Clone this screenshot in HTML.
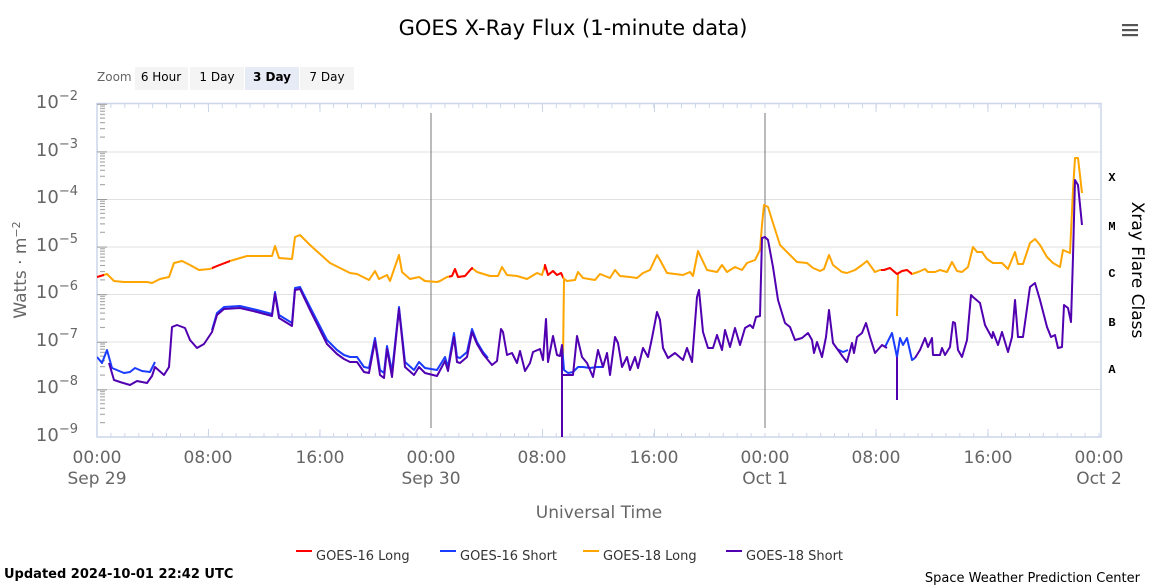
<!DOCTYPE html>
<html><head><meta charset="utf-8"><style>
body{margin:0;background:#fff;}
svg{display:block;font-family:"DejaVu Sans","Liberation Sans",sans-serif;}
</style></head><body>
<svg width="1153" height="586" viewBox="0 0 1153 586">
<defs>
<clipPath id="red"><rect x="90" y="90" width="14" height="360"/><rect x="212" y="90" width="18" height="360"/><rect x="449" y="90" width="24" height="360"/><rect x="544" y="90" width="19" height="360"/><rect x="881" y="90" width="31" height="360"/></clipPath>
<clipPath id="plot"><rect x="97" y="103" width="1004" height="334"/></clipPath>
<pattern id="xt" patternUnits="userSpaceOnUse" x="96.5" y="0" width="13.9167" height="586"><line x1="0.5" x2="0.5" y1="104" y2="108" stroke="#ccd6eb"/><line x1="0.5" x2="0.5" y1="433" y2="437" stroke="#ccd6eb"/></pattern>
<pattern id="yt" patternUnits="userSpaceOnUse" x="0" y="103.8" width="20" height="47.6"><g stroke="#999" stroke-width="1"><line x1="0" x2="20" y1="0.5" y2="0.5"/><line x1="0" x2="5" y1="33.3" y2="33.3"/><line x1="0" x2="5" y1="24.9" y2="24.9"/><line x1="0" x2="5" y1="18.9" y2="18.9"/><line x1="0" x2="5" y1="14.3" y2="14.3"/><line x1="0" x2="5" y1="10.6" y2="10.6"/><line x1="0" x2="5" y1="7.4" y2="7.4"/><line x1="0" x2="5" y1="4.6" y2="4.6"/><line x1="0" x2="5" y1="2.2" y2="2.2"/></g></pattern>
<polyline id="op" points="97,277 107,274 114,281 124,282 147,282 152,283 160,279 169,277 174,263 182,261 190,265 199,270 210,269 217,266 230,261 247,256 272,256 275,246 279,258 292,259 295,237 300,235 310,245 330,263 350,273 357,274 369,280 375,271 379,279 387,275 390,281 399,255 402,272 410,279 419,277 425,281 437,282 440,281 447,277 452,276 455,269 458,277 465,276 472,268 477,272 490,276 498,276 502,267 507,275 517,276 527,279 537,273 542,275 545,265 548,275 553,271 557,275 561,273 564,279 567,281 575,280 578,272 583,278 595,280 600,274 605,276 610,278 615,270 620,276 630,277 637,278 643,273 650,270 657,255 660,260 667,273 683,275 690,272 693,276 698,251 707,270 717,272 722,265 727,272 735,267 742,270 747,263 755,260 760,250 762,225 764,205 768,207 773,223 780,245 790,255 797,262 807,263 813,268 820,271 824,269 829,255 833,265 842,272 847,273 855,270 862,265 867,261 875,272 880,270 884,270 890,268 897,274 902,271 907,270 912,274 918,272 925,269 928,272 935,272 940,270 947,272 952,262 957,271 962,272 968,267 973,247 977,252 982,252 987,259 993,263 1002,263 1008,269 1015,252 1018,264 1023,264 1030,243 1035,239 1040,245 1047,257 1053,263 1060,267 1063,250 1070,253 1073,190 1075,158 1078,158 1082,193"/>
</defs>
<text x="573" y="35" text-anchor="middle" font-size="21" fill="#000">GOES X-Ray Flux (1-minute data)</text>
<g fill="#555"><rect x="1122" y="24" width="16" height="2.2"/><rect x="1122" y="29" width="16" height="2.2"/><rect x="1122" y="34" width="16" height="2.2"/></g>
<text x="97" y="81" font-size="12" fill="#666">Zoom</text>
<rect x="135" y="67" width="53" height="23" fill="#f4f4f4"/><text x="161" y="81" font-size="12" text-anchor="middle">6 Hour</text>
<rect x="190" y="67" width="54" height="23" fill="#f4f4f4"/><text x="217" y="81" font-size="12" text-anchor="middle">1 Day</text>
<rect x="245" y="67" width="54" height="23" fill="#e6ebf5"/><text x="272" y="81" font-size="12" text-anchor="middle" font-weight="bold">3 Day</text>
<rect x="300" y="67" width="54" height="23" fill="#f4f4f4"/><text x="327" y="81" font-size="12" text-anchor="middle">7 Day</text>
<g stroke="#e0e0e0" stroke-width="1">
<line x1="97" x2="1101" y1="152" y2="152"/><line x1="97" x2="1101" y1="199.5" y2="199.5"/><line x1="97" x2="1101" y1="247" y2="247"/><line x1="97" x2="1101" y1="294.5" y2="294.5"/><line x1="97" x2="1101" y1="342" y2="342"/><line x1="97" x2="1101" y1="389.5" y2="389.5"/>
</g>
<rect x="97" y="103.5" width="1004" height="333.5" fill="none" stroke="#ccd6eb" stroke-width="1.5"/>
<rect x="96" y="100" width="1006" height="340" fill="url(#xt)"/>
<rect x="97" y="103" width="10" height="334" fill="url(#yt)"/>
<g stroke="#ccd6eb" stroke-width="1">
<line x1="208.5" x2="208.5" y1="104" y2="112"/><line x1="320" x2="320" y1="104" y2="112"/><line x1="654.5" x2="654.5" y1="104" y2="112"/><line x1="876" x2="876" y1="104" y2="112"/><line x1="988" x2="988" y1="104" y2="112"/>
<line x1="208.5" x2="208.5" y1="429" y2="437"/><line x1="320" x2="320" y1="429" y2="437"/><line x1="542.5" x2="542.5" y1="429" y2="437"/><line x1="654.5" x2="654.5" y1="429" y2="437"/><line x1="876" x2="876" y1="429" y2="437"/><line x1="988" x2="988" y1="429" y2="437"/><line x1="542.5" x2="542.5" y1="104" y2="112"/>
</g>
<g stroke="#777" stroke-width="1"><line x1="431" x2="431" y1="113" y2="428"/><line x1="765" x2="765" y1="113" y2="428"/></g>
<g font-size="18" fill="#666" text-anchor="end">
<text x="78" y="108">10<tspan dy="-8" font-size="13">−2</tspan></text>
<text x="78" y="156">10<tspan dy="-8" font-size="13">−3</tspan></text>
<text x="78" y="203">10<tspan dy="-8" font-size="13">−4</tspan></text>
<text x="78" y="251">10<tspan dy="-8" font-size="13">−5</tspan></text>
<text x="78" y="298">10<tspan dy="-8" font-size="13">−6</tspan></text>
<text x="78" y="346">10<tspan dy="-8" font-size="13">−7</tspan></text>
<text x="78" y="393">10<tspan dy="-8" font-size="13">−8</tspan></text>
<text x="78" y="441">10<tspan dy="-8" font-size="13">−9</tspan></text>
</g>
<text transform="translate(26,270) rotate(-90)" font-size="17" fill="#666" text-anchor="middle">Watts · m<tspan dy="-6" font-size="11">−2</tspan></text>
<g font-size="17" fill="#666" text-anchor="middle">
<text x="97" y="463">00:00</text><text x="97" y="484">Sep 29</text>
<text x="208" y="463">08:00</text><text x="320" y="463">16:00</text>
<text x="431" y="463">00:00</text><text x="431" y="484">Sep 30</text>
<text x="542" y="463">08:00</text><text x="654" y="463">16:00</text>
<text x="765" y="463">00:00</text><text x="765" y="484">Oct 1</text>
<text x="876" y="463">08:00</text><text x="988" y="463">16:00</text>
<text x="1099" y="463">00:00</text><text x="1099" y="484">Oct 2</text>
<text x="599" y="518">Universal Time</text>
</g>
<g font-size="12" font-weight="bold" fill="#000" font-family="Liberation Mono,monospace" text-anchor="middle">
<text x="1112" y="181">X</text><text x="1112" y="230">M</text><text x="1112" y="277">C</text><text x="1112" y="326">B</text><text x="1112" y="373">A</text>
</g>
<text transform="translate(1132,270) rotate(90)" font-size="17" fill="#000" text-anchor="middle">Xray Flare Class</text>
<g clip-path="url(#plot)" fill="none" stroke-width="2" stroke-linejoin="round">
<use href="#op" stroke="#ffa500"/>
<polyline stroke="#ffa500" points="564,279 563,360"/><polyline stroke="#ffa500" points="898,274 897,316"/>
<g clip-path="url(#red)"><use href="#op" stroke="#ff0000"/></g>
<polyline stroke="#1a3cff" points="97,357 102,363 107,350 112,368 124,373 130,372 135,368 142,371 150,372 155,362"/>
<polyline stroke="#1a3cff" points="212,330 217,313 224,307 240,306 257,310 272,314 275,292 279,315 292,323 295,288 300,287 310,307 327,340 337,350 344,355 350,357 357,357 364,367 369,368 375,338 380,370 384,373 387,346 392,372 399,307 405,362 414,370 419,362 425,368 437,370 445,357 448,367 450,355 454,333 457,357 460,358 467,352 472,329 477,342 483,352 488,358"/>
<polyline stroke="#1a3cff" points="562,345 564,370 568,373 573,372 578,367 583,367 590,368 597,367 603,367"/>
<polyline stroke="#1a3cff" points="837,349 843,352 848,350"/>
<polyline stroke="#1a3cff" points="885,347 892,333 897,357 900,338 903,345 907,338 912,360 915,358"/>
<polyline stroke="#5000b0" points="109,363 114,380 120,382 130,385 137,381 147,383 152,376 155,367 164,375 169,367 172,327 177,325 185,328 190,340 197,348 204,344 212,332 217,315 224,309 240,308 257,312 272,316 275,294 279,318 292,326 295,290 300,289 310,310 327,344 337,354 344,359 350,362 357,362 364,372 369,373 375,341 380,375 384,378 387,349 392,377 399,309 405,367 414,375 419,367 425,373 437,376 445,361 448,371 450,359 454,337 457,362 460,363 467,357 472,332 477,344 483,354 492,365 497,361 501,329 503,332 507,355 512,353 517,363 520,351 525,371 530,363 533,352 540,349 543,360 546,319 548,362 553,336 557,355 560,356 562,345 562,440"/>
<polyline stroke="#5000b0" points="563,375 568,375 573,375 577,336 582,357 587,363 593,377 598,350 603,367 607,353 610,375 615,337 618,343 622,367 627,357 630,370 635,357 638,368 643,348 648,357 652,338 657,312 660,320 663,348 668,358 675,353 683,360 687,348 692,362 697,297 699,290 703,332 708,348 713,348 717,335 722,350 725,330 730,347 735,328 740,345 745,328 750,325 753,328 756,317 760,316 762,238 765,237 768,240 773,267 778,300 785,323 790,327 795,340 802,338 808,333 812,340 814,353 817,342 822,357 826,337 829,310 833,343 838,350 843,357 847,362 852,343 854,353 857,337 862,333 866,323 870,337 875,353 882,345 887,348"/>
<polyline stroke="#5000b0" points="897,400 897,357"/>
<polyline stroke="#5000b0" points="915,358 920,350 925,338 928,347 932,338 933,355 940,355 942,348 945,355 950,347 953,322 955,323 958,350 962,357 967,340 971,295 973,297 980,303 985,325 992,338 993,332 998,345 1002,332 1008,352 1012,337 1015,300 1018,337 1023,337 1030,287 1035,283 1040,300 1047,327 1051,337 1055,335 1058,348 1062,347 1064,305 1068,308 1071,322 1073,257 1075,180 1078,185 1082,225"/>
</g>
<g font-size="13" fill="#333">
<line x1="296" x2="312" y1="551" y2="551" stroke="#ff0000" stroke-width="2"/><text x="316" y="560">GOES-16 Long</text>
<line x1="440" x2="456" y1="551" y2="551" stroke="#1a3cff" stroke-width="2"/><text x="460" y="560">GOES-16 Short</text>
<line x1="583" x2="599" y1="551" y2="551" stroke="#ffa500" stroke-width="2"/><text x="603" y="560">GOES-18 Long</text>
<line x1="726" x2="742" y1="551" y2="551" stroke="#5000b0" stroke-width="2"/><text x="746" y="560">GOES-18 Short</text>
</g>
<text x="4" y="578" font-size="13" font-weight="bold" fill="#000">Updated 2024-10-01 22:42 UTC</text>
<text x="1140" y="582" font-size="13" fill="#000" text-anchor="end">Space Weather Prediction Center</text>
</svg>
</body></html>
